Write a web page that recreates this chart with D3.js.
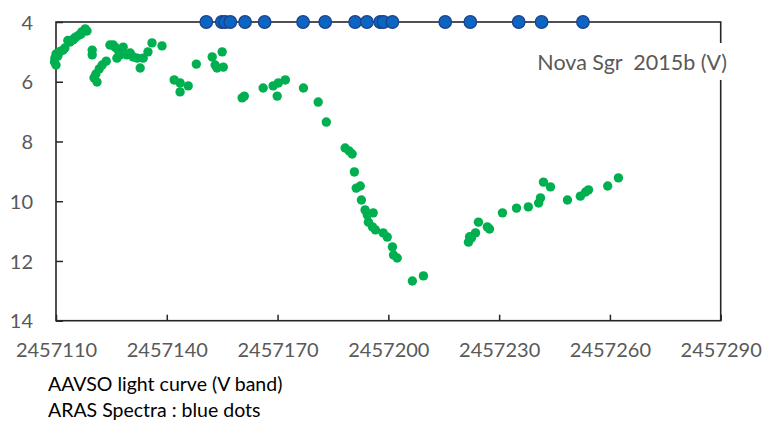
<!DOCTYPE html>
<html>
<head>
<meta charset="utf-8">
<script src="https://cdn.jsdelivr.net/npm/d3@7"></script>
<style>
  html, body { margin: 0; padding: 0; background: #fff; }
  svg { display: block; }
  .tick text { font-family: Lato, "Open Sans", sans-serif; fill: #595959; }
</style>
</head>
<body>
<svg id="chart" width="765" height="421"></svg>
<script>
// AAVSO V-band photometry of Nova Sgr 2015b (Julian Date, magnitude)
const lightJD = [
  2457109.6, 2457109.7, 2457110.0, 2457110.5, 2457111.1, 2457111.9, 2457112.4, 2457110.0,
  2457113.8, 2457114.6, 2457115.4, 2457116.2, 2457117.0, 2457117.9,
  2457113.2, 2457114.9, 2457116.8, 2457118.4,
  2457119.8, 2457119.8, 2457123.6, 2457122.5, 2457121.7, 2457120.8, 2457120.3, 2457121.1,
  2457124.6, 2457125.5, 2457126.5, 2457126.0, 2457126.8, 2457128.2, 2457127.3, 2457129.2,
  2457130.1, 2457130.9, 2457132.0, 2457133.6, 2457132.8, 2457134.9, 2457136.0, 2457138.7,
  2457142.0, 2457143.6, 2457143.6, 2457145.8, 2457148.0, 2457152.3, 2457155.0, 2457153.1,
  2457153.6, 2457155.3, 2457160.4, 2457161.0, 2457166.1, 2457168.8, 2457170.2, 2457172.1,
  2457169.9, 2457177.0, 2457181.0, 2457183.2,
  2457188.3, 2457189.4, 2457190.2, 2457190.8, 2457191.3, 2457192.4, 2457192.7, 2457193.7,
  2457194.3, 2457194.6, 2457195.9, 2457195.7, 2457196.5, 2457198.6, 2457199.7, 2457201.1,
  2457201.4, 2457202.4, 2457206.5, 2457209.5,
  2457221.7, 2457222.5, 2457223.6, 2457222.0, 2457224.4, 2457226.8, 2457227.4, 2457230.9,
  2457234.7, 2457237.9, 2457240.7, 2457241.2, 2457242.0, 2457243.9, 2457248.5, 2457252.0,
  2457253.4, 2457254.2, 2457259.4, 2457262.3
];
const lightMag = [
  5.34, 5.21, 5.07, 5.14, 4.99, 4.94, 4.87, 5.44,
  4.67, 4.60, 4.50, 4.44, 4.33, 4.23,
  4.62, 4.55, 4.40, 4.30,
  4.94, 5.10, 5.31, 5.44, 5.57, 5.74, 5.87, 6.01,
  4.77, 4.77, 5.21, 4.84, 4.94, 4.84, 5.10, 5.10,
  5.04, 5.17, 5.21, 5.21, 5.54, 5.00, 4.70, 4.80,
  5.94, 6.04, 6.34, 6.14, 5.41, 5.17, 5.00, 5.44,
  5.54, 5.51, 6.54, 6.48, 6.21, 6.14, 6.04, 5.94,
  6.48, 6.21, 6.68, 7.35,
  8.22, 8.32, 8.42, 9.02, 9.56, 9.49, 9.96, 10.29,
  10.46, 10.70, 10.39, 10.86, 10.96, 11.06, 11.20, 11.53,
  11.80, 11.90, 12.67, 12.50,
  11.37, 11.23, 11.06, 11.19, 10.70, 10.86, 10.93, 10.39,
  10.23, 10.19, 10.06, 9.89, 9.36, 9.52, 9.96, 9.83,
  9.69, 9.62, 9.49, 9.22
];

// Dates of the ARAS spectra, plotted along the top edge
const spectraJD = [
  2457150.7, 2457154.9, 2457155.8, 2457157.2, 2457161.2, 2457166.5, 2457176.9, 2457182.9,
  2457191.0, 2457194.2, 2457197.8, 2457198.7, 2457201.1, 2457215.4, 2457222.2, 2457235.3,
  2457241.5, 2457252.7
];
const spectraMag = spectraJD.map(() => 4);

const xTicks = [2457110, 2457140, 2457170, 2457200, 2457230, 2457260, 2457290];
const yTicks = [4, 6, 8, 10, 12, 14];
const titleText = "Nova Sgr  2015b (V)";
const noteLines = ["AAVSO light curve (V band)", "ARAS Spectra : blue dots"];

const svg = d3.select("#chart");
const plot = { left: 56, right: 720.7, top: 22, bottom: 320.7 };

const x = d3.scaleLinear().domain([2457110, 2457290]).range([plot.left, plot.right]);
const y = d3.scaleLinear().domain([4, 14]).range([plot.top, plot.bottom]);

// Axes with inward ticks
const xAxis = svg.append("g")
  .attr("transform", `translate(0,${plot.bottom})`)
  .call(d3.axisBottom(x).tickValues(xTicks).tickFormat(d3.format("d"))
    .tickSize(-6).tickPadding(22));
const yAxis = svg.append("g")
  .attr("transform", `translate(${plot.left},0)`)
  .call(d3.axisLeft(y).tickValues(yTicks).tickFormat(d3.format("d"))
    .tickSize(-7).tickPadding(23));

[xAxis, yAxis].forEach(g => {
  g.select(".domain").remove();
  g.selectAll(".tick line").attr("stroke", "#262626").attr("stroke-width", 1.5);
  g.selectAll(".tick text").style("font-size", "20px");
});
xAxis.selectAll(".tick text").attr("dy", "0.71em");
yAxis.selectAll(".tick text").attr("dy", "0.36em");

// Plot frame
svg.append("rect")
  .attr("x", plot.left).attr("y", plot.top)
  .attr("width", plot.right - plot.left).attr("height", plot.bottom - plot.top)
  .attr("fill", "none").attr("stroke", "#262626").attr("stroke-width", 1.6);

// Light curve points
svg.append("g").selectAll("circle")
  .data(lightJD.map((d, i) => [d, lightMag[i]]))
  .join("circle")
  .attr("cx", d => x(d[0])).attr("cy", d => y(d[1]))
  .attr("r", 4.7).attr("fill", "#00b050");

// Spectra markers
svg.append("g").selectAll("circle")
  .data(spectraJD.map((d, i) => [d, spectraMag[i]]))
  .join("circle")
  .attr("cx", d => x(d[0])).attr("cy", d => y(d[1]))
  .attr("r", 6.3).attr("fill", "#0a66c2").attr("stroke", "#1f3f86").attr("stroke-width", 1.2);

// Title box over the right edge of the frame
const titleG = svg.append("g");
const titleBg = titleG.append("rect").attr("fill", "#fff");
const title = titleG.append("text")
  .attr("x", 727).attr("y", 70)
  .attr("text-anchor", "end")
  .style("white-space", "pre")
  .style("font-family", "Lato, 'Open Sans', sans-serif")
  .style("font-size", "21.5px")
  .attr("fill", "#595959")
  .text(titleText);
const tb = title.node().getBBox();
titleBg.attr("x", tb.x - 4).attr("y", 43).attr("width", tb.width + 8).attr("height", 37);

// Notes below the chart
svg.append("g").selectAll("text")
  .data(noteLines)
  .join("text")
  .attr("x", 48)
  .attr("y", (d, i) => 391 + i * 26)
  .style("font-family", "Lato, 'Open Sans', sans-serif")
  .style("font-size", "19.5px")
  .attr("fill", "#000")
  .text(d => d);
</script>
</body>
</html>
